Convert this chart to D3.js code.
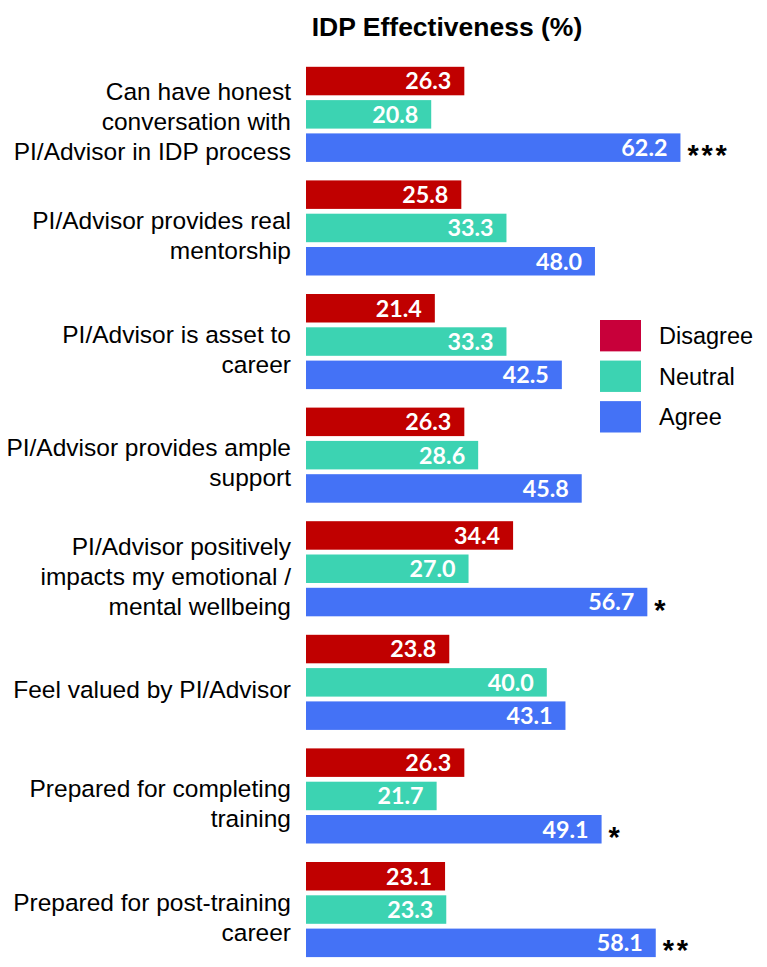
<!DOCTYPE html>
<html>
<head>
<meta charset="utf-8">
<script src="https://cdn.jsdelivr.net/npm/d3@7"></script>
<style>
  html, body { margin: 0; padding: 0; background: #fff; }
  svg { display: block; }
</style>
</head>
<body>
<svg id="chart" width="767" height="967"></svg>
<script>
// ---- data ----
const categories = [
  ["Can have honest", "conversation with", "PI/Advisor in IDP process"],
  ["PI/Advisor provides real", "mentorship"],
  ["PI/Advisor is asset to", "career"],
  ["PI/Advisor provides ample", "support"],
  ["PI/Advisor positively", "impacts my emotional /", "mental wellbeing"],
  ["Feel valued by PI/Advisor"],
  ["Prepared for completing", "training"],
  ["Prepared for post-training", "career"]
];
const seriesNames = ["Disagree", "Neutral", "Agree"];
const disagree = [26.3, 25.8, 21.4, 26.3, 34.4, 23.8, 26.3, 23.1];
const neutral  = [20.8, 33.3, 33.3, 28.6, 27.0, 40.0, 21.7, 23.3];
const agree    = [62.2, 48.0, 42.5, 45.8, 56.7, 43.1, 49.1, 58.1];
const significance = ["***", "", "", "", "*", "", "*", "**"];
const title = "IDP Effectiveness (%)";

// ---- styles ----
const barColors = ["#C00000", "#3CD3B2", "#4472F6"];
const legendColors = ["#C8003A", "#3CD3B2", "#4472F6"];
const seriesValues = [disagree, neutral, agree];

const svg = d3.select("#chart");
const idx = d3.range(categories.length);

const x = d3.scaleLinear().domain([0, 100]).range([306, 908]);
const groupStep = 113.6;
const y0 = d3.scaleBand().domain(idx).range([66.8, 66.8 + groupStep * idx.length]).paddingInner(0).paddingOuter(0);
const y1 = d3.scaleBand().domain(d3.range(3)).range([0, 3 * 33.3 - 4.8]).paddingInner(4.8 / 33.3).paddingOuter(0);

// title
svg.append("text")
  .attr("x", 447).attr("y", 36)
  .attr("text-anchor", "middle")
  .style("font-family", "Liberation Sans, Arial, sans-serif")
  .style("font-weight", "bold")
  .style("font-size", "26.5px")
  .attr("fill", "#000")
  .text(title);

// groups
const g = svg.selectAll("g.grp").data(idx).join("g")
  .attr("class", "grp")
  .attr("transform", i => `translate(0,${y0(i)})`);

g.each(function(i) {
  const gg = d3.select(this);
  const rows = d3.range(3).map(s => ({ s, v: seriesValues[s][i] }));
  gg.selectAll("rect").data(rows).join("rect")
    .attr("x", x(0))
    .attr("y", d => y1(d.s))
    .attr("width", d => x(d.v) - x(0))
    .attr("height", y1.bandwidth())
    .attr("fill", d => barColors[d.s]);
  gg.selectAll("text.val").data(rows).join("text")
    .attr("class", "val")
    .attr("x", d => x(d.v) - 13)
    .attr("y", d => y1(d.s) + y1.bandwidth() / 2 + 8.4)
    .attr("text-anchor", "end")
    .style("font-family", "Lato, 'Open Sans', sans-serif")
    .style("font-weight", "bold")
    .style("font-size", "23.3px")
    .attr("fill", "#fff")
    .text(d => d3.format(".1f")(d.v));
  if (significance[i]) {
    gg.append("text")
      .attr("x", x(agree[i]) + 7)
      .attr("y", y1(2) + y1.bandwidth() / 2 + 17.5)
      .style("font-family", "Liberation Sans, Arial, sans-serif")
      .style("font-weight", "bold")
      .style("font-size", "29px")
      .style("letter-spacing", "2.8px")
      .attr("fill", "#000")
      .text(significance[i]);
  }
  const lines = categories[i];
  const lh = 30;
  const center = groupStep / 2 - 1.7;
  const t = gg.append("text")
    .attr("text-anchor", "end")
    .style("font-family", "Liberation Sans, Arial, sans-serif")
    .style("font-size", "24.5px")
    .attr("fill", "#000");
  lines.forEach((ln, k) => {
    t.append("tspan")
      .attr("x", 291)
      .attr("y", center + (k - (lines.length - 1) / 2) * lh + 8.6)
      .text(ln);
  });
});

// legend
const leg = svg.append("g");
const legY = d3.scaleBand().domain(d3.range(3)).range([320, 320 + 3 * 37.5]).paddingInner(8.5 / 37.5).paddingOuter(0);
leg.selectAll("rect").data(seriesNames).join("rect")
  .attr("x", 600).attr("y", (d, k) => legY(k))
  .attr("width", 41).attr("height", legY.bandwidth())
  .attr("fill", (d, k) => legendColors[k]);
leg.selectAll("text").data(seriesNames).join("text")
  .attr("x", 659).attr("y", (d, k) => legY(k) + legY.bandwidth() / 2 + 8.5)
  .style("font-family", "Liberation Sans, Arial, sans-serif")
  .style("font-size", "23.5px")
  .attr("fill", "#000")
  .text(d => d);
</script>
</body>
</html>
